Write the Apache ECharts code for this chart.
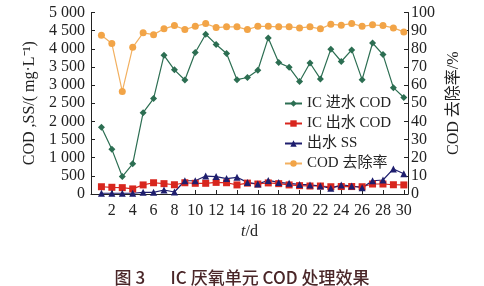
<!DOCTYPE html>
<html><head><meta charset="utf-8">
<script src="https://cdn.jsdelivr.net/npm/echarts@6/dist/echarts.min.js"></script>
<style>html,body{margin:0;padding:0;background:#fff}#c{width:484px;height:286px}</style>
</head><body><div id="c"></div>
<script>
const days = [1,2,3,4,5,6,7,8,9,10,11,12,13,14,15,16,17,18,19,20,21,22,23,24,25,26,27,28,29,30];
const influentCOD = [1840,1230,480,830,2240,2630,3820,3420,3140,3900,4400,4120,3870,3150,3210,3410,4300,3620,3490,3100,3610,3170,3990,3650,3970,3150,4160,3840,2930,2660];
const effluentCOD = [200,185,175,140,250,310,285,255,310,295,295,320,310,250,300,275,305,285,250,230,220,220,200,205,205,200,275,275,255,250];
const effluentSS = [20,20,20,20,45,45,110,55,365,365,495,480,425,460,320,275,375,320,295,265,250,220,155,250,220,175,365,385,690,560];
const removalRate = [87.5,82.9,56.5,80.8,88.8,87.8,91.0,92.8,90.6,92.4,93.9,91.7,92.1,92.1,90.6,92.4,92.4,92.1,92.1,91.5,92.1,91.0,93.5,93.0,93.9,92.4,93.2,92.8,91.5,89.3];
const seriesNames = ['IC 进水 COD','IC 出水 COD','出水 SS','COD 去除率'];
const xAxisName = 't/d';
const leftAxisName = 'COD ,SS/( mg·L⁻¹)';
const rightAxisName = 'COD 去除率/%';
const caption = '图 3\u2003\u2002IC 厌氧单元 COD 处理效果';

const serif = "'Liberation Serif','Noto Sans CJK SC',serif";
const pair = (ys) => days.map((d, i) => [d, ys[i]]);
const chart = echarts.init(document.getElementById('c'), null, {renderer: 'canvas'});
const fmtK = v => { const s = String(v); return s.length > 3 ? s.slice(0, s.length-3) + ' ' + s.slice(-3) : s; };
const axisCol = '#222';
chart.setOption({
  animation: false,
  backgroundColor: '#fff',
  grid: {left: 91, right: 76, top: 12.5, height: 181.5},
  title: {text: caption, left: 'center', top: 264,
    textStyle: {fontFamily: "'Noto Sans CJK SC',sans-serif", fontSize: 17, fontWeight: 500, color: '#4a2628'}},
  legend: {
    orient: 'vertical', left: 279, top: 91, itemGap: 5, itemWidth: 17, itemHeight: 8,
    textStyle: {fontFamily: serif, fontSize: 15, color: '#222', lineHeight: 15},
    data: seriesNames
  },
  xAxis: {
    type: 'value', min: 0, max: 30.4, interval: 2,
    name: '{i|t}/d', nameLocation: 'middle', nameGap: 28,
    nameTextStyle: {fontFamily: serif, fontSize: 16, color: axisCol, rich: {i: {fontStyle: 'italic', fontFamily: serif, fontSize: 16, color: axisCol}}},
    axisLine: {lineStyle: {color: axisCol, width: 1}},
    axisTick: {inside: true, length: 4, lineStyle: {color: axisCol}},
    splitLine: {show: false},
    axisLabel: {fontFamily: serif, fontSize: 16, color: axisCol, margin: 9,
      formatter: v => (v > 0 && Number.isInteger(v) && v % 2 === 0) ? String(v) : ''}
  },
  yAxis: [{
    type: 'value', min: 0, max: 5000, interval: 500, position: 'left',
    name: leftAxisName, nameLocation: 'middle', nameGap: 48, nameRotate: 90,
    nameTextStyle: {fontFamily: serif, fontSize: 16, color: axisCol},
    axisLine: {show: true, lineStyle: {color: axisCol, width: 1}},
    axisTick: {show: true, inside: true, length: 4, lineStyle: {color: axisCol}},
    splitLine: {show: false},
    axisLabel: {fontFamily: serif, fontSize: 16, color: axisCol, margin: 6, formatter: fmtK}
  }, {
    type: 'value', min: 0, max: 100, interval: 10, position: 'right',
    name: rightAxisName, nameLocation: 'middle', nameGap: 36, nameRotate: 90,
    nameTextStyle: {fontFamily: serif, fontSize: 16, color: axisCol},
    axisLine: {show: true, lineStyle: {color: axisCol, width: 1}},
    axisTick: {show: true, inside: true, length: 4, lineStyle: {color: axisCol}},
    splitLine: {show: false},
    axisLabel: {fontFamily: serif, fontSize: 16, color: axisCol, margin: 3}
  }],
  series: [
    {name: seriesNames[3], type: 'line', yAxisIndex: 1, data: pair(removalRate),
      symbol: 'circle', symbolSize: 7, color: '#f2a447', lineStyle: {width: 1.2, color: '#f2b060'}},
    {name: seriesNames[0], type: 'line', yAxisIndex: 0, data: pair(influentCOD),
      symbol: 'diamond', symbolSize: 7, color: '#2c6e52', lineStyle: {width: 1.2}},
    {name: seriesNames[1], type: 'line', yAxisIndex: 0, data: pair(effluentCOD),
      symbol: 'rect', symbolSize: 7, color: '#d8261e', lineStyle: {width: 1.2}},
    {name: seriesNames[2], type: 'line', yAxisIndex: 0, data: pair(effluentSS),
      symbol: 'triangle', symbolSize: 7, color: '#1e1e6e', lineStyle: {width: 1.2}}
  ]
});
</script></body></html>
